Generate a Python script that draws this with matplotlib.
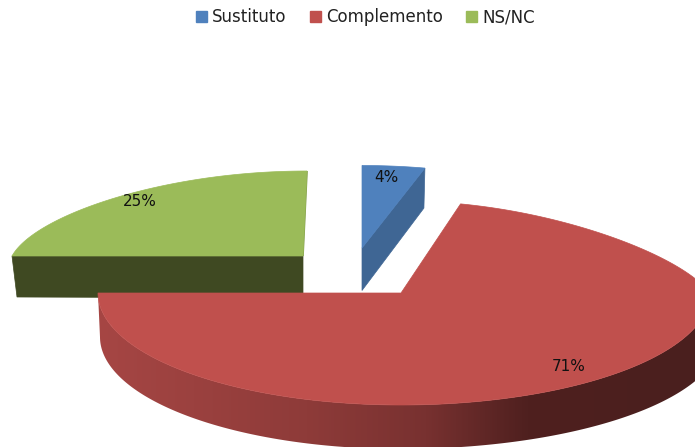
import numpy as np
import matplotlib
matplotlib.use("Agg")
import matplotlib.pyplot as plt
from matplotlib.patches import Polygon, Patch
from matplotlib.colors import LinearSegmentedColormap

categories = ["Sustituto", "Complemento", "NS/NC"]
values = [4, 71, 25]
colors = ["#4F81BD", "#C0504D", "#9BBB59"]
side_colors = ["#3F6694", None, "#3F4922"]

W, H = 695, 447
fig = plt.figure(figsize=(W / 100, H / 100), dpi=100)
ax = fig.add_axes([0, 0, 1, 1])
ax.set_xlim(0, W)
ax.set_ylim(H, 0)
ax.axis("off")

frac = np.array(values) / sum(values)
edges = np.concatenate([[0], np.cumsum(frac)]) * 2 * np.pi


def project(t, cx, cy, rxl, rxr, ryb, ryf, squeeze=0.0, shear=0.0):
    u, v = np.sin(t), np.cos(t)
    rx = np.where(u < 0, rxl, rxr)
    x = cx + rx * u * (1 - squeeze * np.clip(v, 0, 1)) + shear * np.clip(v, 0, 1)
    y = cy - v * np.where(v > 0, ryb, ryf)
    return x, y


def arc(i, **kw):
    t = np.linspace(edges[i], edges[i + 1], 300)
    return t, *project(t, **kw)


# NS/NC slice
gk = dict(cx=303, cy=256, rxl=291, rxr=291, ryb=85, ryf=85, squeeze=0.15, shear=4)
t, x, y = arc(2, **gk)
ax.add_patch(Polygon([(303, 256), (307, 171), (303, 256)], closed=True, ec="#7F9A48", lw=1.2))
ax.add_patch(Polygon(np.c_[[x[0], 303, 303, x[0] + 5], [y[0], 256, 298, 297]],
                     fc=side_colors[2], ec=side_colors[2], lw=0.5))
ax.add_patch(Polygon(np.r_[[[303, 256]], np.c_[x, y]], fc=colors[2], ec=colors[2], lw=0.5))

# Sustituto slice
bk = dict(cx=362, cy=248, rxl=253, rxr=253, ryb=82.5, ryf=82.5)
t, x, y = arc(0, **bk)
ax.add_patch(Polygon(np.c_[[362, x[-1], x[-1] - 1, 362], [248, y[-1], y[-1] + 40, 290.5]],
                     fc=side_colors[0], ec=side_colors[0], lw=0.5))
ax.add_patch(Polygon(np.r_[[[362, 248]], np.c_[x, y]], fc=colors[0], ec=colors[0], lw=0.5))

# Complemento slice: curved side wall with a horizontal shading gradient
rk = dict(cx=401, cy=293, rxl=303, rxr=309, ryb=92, ryf=112, squeeze=0.232)
bot = dict(rk, cy=337, rxl=301, rxr=320)
cmap = LinearSegmentedColormap.from_list(
    "side", [(0, "#A64644"), (0.35, "#8E3B39"), (0.55, "#783130"), (0.72, "#4F201F"), (1, "#4A1F1E")])
t = np.linspace(np.pi / 2, 3 * np.pi / 2, 400)
xt, yt = project(t, **rk)
xb, yb = project(t, **bot)
wall = Polygon(np.r_[np.c_[xt, yt], np.c_[xb, yb][::-1]], fc="none", ec="none")
ax.add_patch(wall)
img = ax.imshow(np.linspace(0, 1, 256)[None, :], cmap=cmap, extent=(98, 695, H, 0), aspect="auto", zorder=1)
img.set_clip_path(wall)
t, x, y = arc(1, **rk)
ax.add_patch(Polygon(np.r_[[[401, 293]], np.c_[x, y]], fc=colors[1], ec=colors[1], lw=0.5, zorder=2))
ax.set_xlim(0, W)
ax.set_ylim(H, 0)

# Percentage labels
label_xy = [(386.5, 177.5), (569, 366.5), (140, 201.5)]
for v, (lx, ly) in zip(values, label_xy):
    ax.text(lx, ly, f"{v}%", ha="center", va="center", fontsize=11, color="#111111", zorder=3)

handles = [Patch(fc=c, ec=c) for c in colors]
ax.legend(handles, categories, loc="upper center", bbox_to_anchor=(365.5 / W, 1 - 8 / H), ncol=3,
          frameon=False, fontsize=12, handlelength=0.66, handleheight=0.66, handletextpad=0.3,
          columnspacing=1.4, labelcolor="#222222", borderpad=0, borderaxespad=0)

fig.savefig("out.png", dpi=100)
